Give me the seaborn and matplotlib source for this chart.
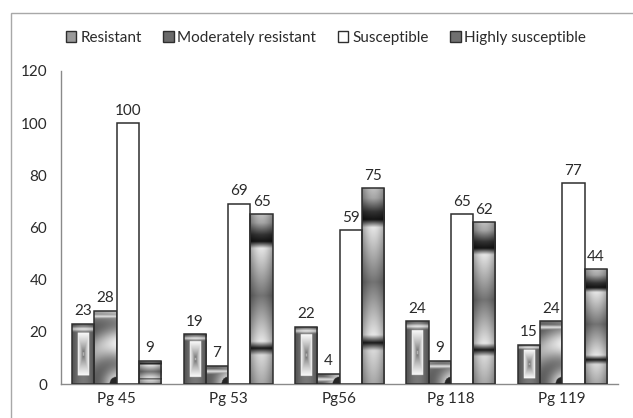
import numpy as np
import pandas as pd
import matplotlib
matplotlib.use("Agg")
import matplotlib.pyplot as plt
import seaborn as sns
from matplotlib.patches import Patch, Rectangle

# data
strains = ["Pg 45", "Pg 53", "Pg56", "Pg 118", "Pg 119"]
classes = ["Resistant", "Moderately resistant", "Susceptible", "Highly susceptible"]
resistant = [23, 19, 22, 24, 15]
moderately_resistant = [28, 7, 4, 9, 24]
susceptible = [100, 69, 59, 65, 77]
highly_susceptible = [9, 65, 75, 62, 44]

df = pd.DataFrame({
    "strain": strains * 4,
    "class": [c for c in classes for _ in strains],
    "value": resistant + moderately_resistant + susceptible + highly_susceptible,
})

sns.set_style("white")
plt.rcParams["font.family"] = ["Lato", "DejaVu Sans"]
text_col = "#2a2a2a"
axis_col = "#8a8a8a"
fs = 11

fig = plt.figure(figsize=(6.33, 4.18), dpi=100)
ax = fig.add_axes([61 / 633, 1 - 384 / 418, (618 - 61) / 633, (384 - 71) / 418])

palette = {"Resistant": "#808080", "Moderately resistant": "#5c5c5c",
           "Susceptible": "white", "Highly susceptible": "#6e6e6e"}
sns.barplot(data=df, x="strain", y="value", hue="class", hue_order=classes,
            order=strains, palette=palette, edgecolor="#2e2e2e", linewidth=1.1,
            width=0.8, ax=ax, legend=False)


# bar textures (grey level 0..1), u across the bar, v up the bar
def tex_resistant(u, v, w, h):
    s = 0.32 + 0.15 * np.sin(np.pi * u)
    top = np.clip(1 - np.abs(v - 0.92) / 0.05, 0, 1)
    s = s + 0.45 * top
    inner = (u > 0.24) & (u < 0.76) & (v > 0.14) & (v < 0.86)
    dd = np.maximum(np.abs(u - 0.5) / 0.26, np.abs(v - 0.5) / 0.36)
    core = 0.3 + 0.68 * dd ** 0.6
    core = np.where(dd < 0.08, 0.75, core)
    return np.where(inner, core, s)


def tex_moderate(u, v, w, h):
    r = np.sqrt(((1 - u) * w) ** 2 + (v * h) ** 2)
    s = 0.72 + 0.22 * np.cos(2 * np.pi * r / 40.0)
    s = s * (0.72 + 0.28 * u)
    top = np.clip(1 - np.abs(v * h - (h - 6)) / 5, 0, 1)
    s = np.maximum(s, 0.9 * top)
    s = np.where(r < 7, 0.15, s)
    return s


def tex_highly(u, v, w, h):
    t = 1 - v
    kt = [0.0, 0.05, 0.12, 0.16, 0.2, 0.48, 0.75, 0.79, 0.83, 1.0]
    ks = [0.75, 0.65, 0.2, 0.08, 0.9, 0.45, 0.9, 0.1, 0.85, 0.65]
    s = np.interp(t, kt, ks)
    return s * (0.7 + 0.3 * np.sin(np.pi * u))


textures = [tex_resistant, tex_moderate, None, tex_highly]

ax.set_xlim(-0.5, 4.5)
ax.set_ylim(0, 120)
fig.canvas.draw()
px_per_x = ax.transData.transform((1, 0))[0] - ax.transData.transform((0, 0))[0]
px_per_y = ax.transData.transform((0, 1))[1] - ax.transData.transform((0, 0))[1]

for cont, tex in zip(ax.containers, textures):
    for bar in cont:
        bar.set_zorder(3)
        if tex is None:
            continue
        x0, y0 = bar.get_x(), bar.get_y()
        bw, bh = bar.get_width(), bar.get_height()
        wpx, hpx = bw * px_per_x, bh * px_per_y
        ny, nx = max(int(hpx * 2), 4), max(int(wpx * 2), 4)
        u, v = np.meshgrid(np.linspace(0, 1, nx), np.linspace(0, 1, ny))
        arr = tex(u, v, wpx, hpx)
        im = ax.imshow(arr, extent=[x0, x0 + bw, y0, y0 + bh], origin="lower",
                       cmap="gray", vmin=0, vmax=1, aspect="auto",
                       interpolation="bilinear", zorder=2)
        im.set_clip_path(bar)
        bar.set_facecolor("none")
    ax.bar_label(cont, padding=4, fontsize=fs, color=text_col)

ax.set_xlim(-0.5, 4.5)
ax.set_ylim(0, 120)
ax.set_yticks(range(0, 121, 20))
ax.set_xlabel("")
ax.set_ylabel("")
ax.set_xticks(np.arange(-0.5, 4.6, 1), minor=True)
ax.tick_params(axis="x", which="major", length=0, pad=6, labelsize=fs, labelcolor=text_col)
ax.tick_params(axis="x", which="minor", length=4, color=axis_col, direction="out")
ax.tick_params(axis="y", length=5, color=axis_col, direction="out", pad=5,
               labelsize=fs, labelcolor=text_col)
for side in ["top", "right"]:
    ax.spines[side].set_visible(False)
for side in ["left", "bottom"]:
    ax.spines[side].set_color(axis_col)
    ax.spines[side].set_linewidth(1)

handles = [
    Patch(facecolor="#9a9a9a", edgecolor="#2e2e2e", linewidth=1),
    Patch(facecolor="#6a6a6a", edgecolor="#2e2e2e", linewidth=1),
    Patch(facecolor="white", edgecolor="#2e2e2e", linewidth=1),
    Patch(facecolor="#707070", edgecolor="#2e2e2e", linewidth=1),
]
fig.legend(handles, classes, loc="center", bbox_to_anchor=(0.515, 1 - 38 / 418),
           ncol=4, frameon=False, fontsize=fs, handlelength=0.7, handleheight=0.7,
           handletextpad=0.25, columnspacing=1.4, labelcolor=text_col)

fig.add_artist(Rectangle((10.7 / 633, -0.1), 1.2, 1 - 13 / 418 + 0.1,
                         transform=fig.transFigure, fill=False,
                         edgecolor="#a8a8a8", linewidth=1))

fig.savefig("out.png", dpi=100)
